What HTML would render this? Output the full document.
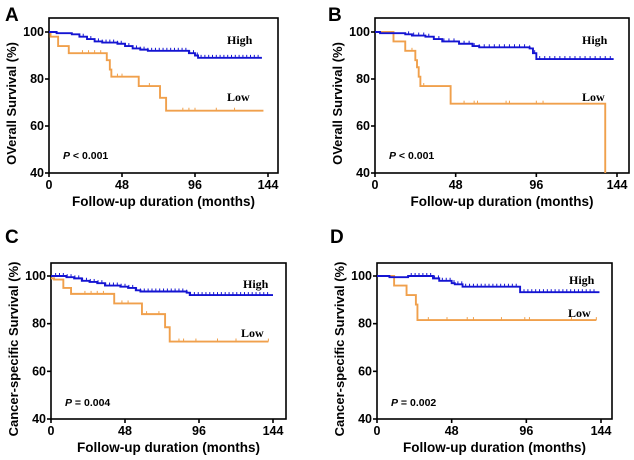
<!DOCTYPE html>
<html><head><meta charset="utf-8"><style>
body{margin:0;background:#fff;}
svg{display:block;font-family:"Liberation Sans",Arial,sans-serif;}
</style></head><body>
<svg id="s" width="634" height="460" xmlns="http://www.w3.org/2000/svg"></svg>
<script>
const S=document.getElementById('s');
let out='';
function panel(p){
  const {L,R,T,B,x0,x144,y100,y40}=p;
  const X=t=>x0+(x144-x0)*t/144, Y=v=>y40+(y100-y40)*(v-40)/60;
  out+=`<rect x="${L}" y="${T}" width="${R-L}" height="${B-T}" fill="none" stroke="#000" stroke-width="1.6"/>`;
  [0,48,96,144].forEach(t=>{const x=X(t);out+=`<line x1="${x}" y1="${B}" x2="${x}" y2="${B+4}" stroke="#000" stroke-width="1.6"/><text x="${x}" y="${B+16}" font-size="12.5" font-weight="bold" text-anchor="middle">${t}</text>`;});
  [40,60,80,100].forEach(v=>{const y=Y(v);out+=`<line x1="${L-4}" y1="${y}" x2="${L}" y2="${y}" stroke="#000" stroke-width="1.6"/><text x="${L-5}" y="${y+4}" font-size="12.5" font-weight="bold" text-anchor="end">${v}</text>`;});
  out+=`<text x="${(L+R)/2}" y="${B+33}" font-size="13.5" font-weight="bold" text-anchor="middle">Follow-up duration (months)</text>`;
  const cy=(T+B)/2;
  out+=`<text transform="translate(${L-33},${cy+8}) rotate(-90)" font-size="13" font-weight="bold" text-anchor="middle">${p.yt}</text>`;
  out+=`<text x="${p.lx}" y="${p.ly}" font-size="19" font-weight="bold">${p.letter}</text>`;
  out+=`<text x="${L+14}" y="${p.py}" font-size="10.5" font-weight="bold"><tspan font-style="italic">P</tspan> ${p.pt}</text>`;
  function line(pts,col,end,cens){
    let d=`M${X(0)},${Y(pts[0][1])}`;
    for(let i=1;i<pts.length;i++){const [t,v]=pts[i];d+=` H${X(t)} V${Y(v)}`;}
    d+=` H${X(end)}`;
    out+=`<path d="${d}" fill="none" stroke="${col}" stroke-width="1.9"/>`;
    cens.forEach(t=>{let v=pts[0][1];pts.forEach(q=>{if(q[0]<=t)v=q[1];});out+=`<line x1="${X(t)}" y1="${Y(v)-3}" x2="${X(t)}" y2="${Y(v)}" stroke="${col}" stroke-width="1"/>`;});
  }
  line(p.lo,'#f0a04c',p.loEnd,p.loC);
  line(p.hi,'#1414d2',p.hiEnd,p.hiC);
  out+=`<text x="${p.hx}" y="${p.hy}" font-family="Liberation Serif,serif" font-size="12" font-weight="bold">High</text>`;
  out+=`<text x="${p.lwx}" y="${p.lwy}" font-family="Liberation Serif,serif" font-size="12" font-weight="bold">Low</text>`;
}
const rng=(a,b,s)=>{const r=[];for(let t=a;t<=b;t+=s)r.push(t);return r;};
panel({L:49,R:278,T:18,B:173,x0:49,x144:268,y100:32,y40:173,letter:'A',lx:5,ly:21,py:159,pt:'< 0.001',yt:'OVerall Survival (%)',
 hi:[[0,100],[5,99.5],[15,99],[20,98],[25,97],[30,96],[35,95.5],[45,95],[50,94],[55,93],[60,92.5],[65,92],[92,91],[96,90],[98,89]],hiEnd:140,hiC:rng(20,138,2.5),
 lo:[[0,100],[1,98],[6,94],[13,91],[37,91],[38,88],[40,84],[41,81],[58,81],[59,77],[72,77],[73,72],[76,72],[77,66.5]],loEnd:141,loC:[22,26,30,34,45,48,66,88,92,96,110,122],
 hx:227,hy:44,lwx:227,lwy:101});
panel({L:375,R:629,T:18,B:173,x0:375,x144:617,y100:32,y40:173,letter:'B',lx:328,ly:21,py:159,pt:'< 0.001',yt:'OVerall Survival (%)',
 hi:[[0,100],[3,99.5],[18,99],[22,98.5],[30,98],[35,97],[40,96],[50,95],[58,94],[62,93.5],[92,93],[94,91],[96,88.5]],hiEnd:142,hiC:rng(20,140,3),
 lo:[[0,100],[11,96],[18,92],[24,88],[25,85],[26,81],[27,77],[44,77],[45,69.5],[136,69.5],[137,40]],loEnd:137,loC:[22,29,53,59,61,78,80,96,100],
 hx:582,hy:44,lwx:582,lwy:101});
panel({L:51,R:286,T:263,B:419,x0:51,x144:273,y100:276,y40:419,letter:'C',lx:5,ly:243,py:406,pt:'= 0.004',yt:'Cancer-specific Survival (%)',
 hi:[[0,100],[10,99.5],[15,99],[20,98],[25,97.5],[30,97],[35,96],[45,95.5],[50,95],[55,94],[58,93.5],[88,93],[90,92]],hiEnd:144,hiC:rng(3,142,2.5),
 lo:[[0,99],[2,98.5],[8,95],[13,92.5],[40,92.5],[41,88.5],[58,88.5],[59,84],[73,84],[74,78.5],[77,72.5]],loEnd:141,loC:[22,26,30,34,46,50,62,70,83,86,94,108,120,141],
 hx:243,hy:288,lwx:241,lwy:337});
panel({L:377,R:612,T:263,B:419,x0:377,x144:601,y100:276,y40:419,letter:'D',lx:330,ly:243,py:406,pt:'= 0.002',yt:'Cancer-specific Survival (%)',
 hi:[[0,100],[8,99.5],[20,100],[36,99],[40,98],[48,97],[50,96.5],[55,95.5],[91,95.5],[92,93.2]],hiEnd:143,hiC:rng(22,140,2.5),
 lo:[[0,100],[11,96],[19,92],[25,88],[26,81.5]],loEnd:141,loC:[33,45,58,62,80,95,98,125,141],
 hx:569,hy:284,lwx:568,lwy:317});
S.innerHTML=out;
</script>
</body></html>
